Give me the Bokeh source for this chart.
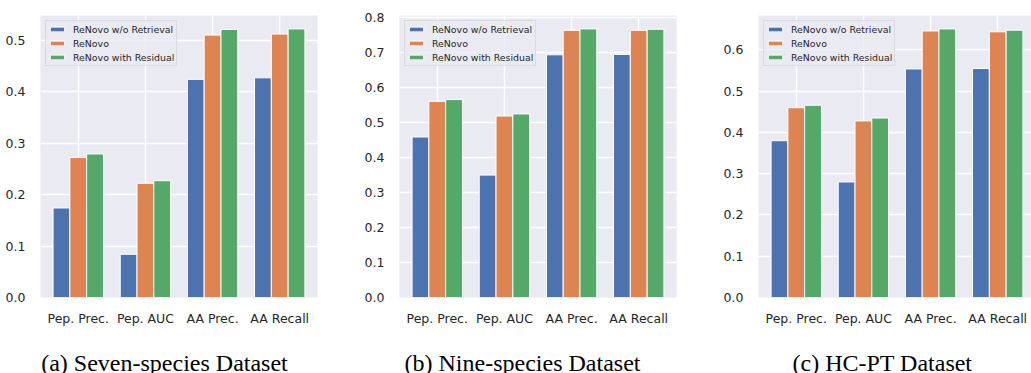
from bokeh.plotting import figure
from bokeh.models import ColumnDataSource, Range1d, FixedTicker, PrintfTickFormatter, Legend
from bokeh.transform import dodge
from bokeh.layouts import row, column
from bokeh.core.properties import value
from bokeh.embed import file_html
from bokeh.resources import INLINE

categories = ["Pep. Prec.", "Pep. AUC", "AA Prec.", "AA Recall"]
series_names = ["ReNovo w/o Retrieval", "ReNovo", "ReNovo with Residual"]
colors = ["#4C72B0", "#DD8452", "#55A868"]

seven_wo = [0.174, 0.084, 0.424, 0.427]
seven_renovo = [0.272, 0.222, 0.510, 0.512]
seven_resid = [0.279, 0.227, 0.521, 0.522]

nine_wo = [0.459, 0.350, 0.694, 0.695]
nine_renovo = [0.561, 0.519, 0.764, 0.764]
nine_resid = [0.566, 0.525, 0.768, 0.767]

hcpt_wo = [0.380, 0.280, 0.554, 0.555]
hcpt_renovo = [0.460, 0.428, 0.646, 0.644]
hcpt_resid = [0.466, 0.435, 0.651, 0.648]

captions = ["(a) Seven-species Dataset", "(b) Nine-species Dataset", "(c) HC-PT Dataset"]
y_ticks = [[0.0, 0.1, 0.2, 0.3, 0.4, 0.5],
           [0.0, 0.1, 0.2, 0.3, 0.4, 0.5, 0.6, 0.7, 0.8],
           [0.0, 0.1, 0.2, 0.3, 0.4, 0.5, 0.6]]

TXT = "#262626"
BG = "#EAEAF2"
MAIN_H = 328


def make_panel(vals, yticks, width, top, right, x_end):
    idx = list(range(len(categories)))
    src = ColumnDataSource(dict(idx=idx, a=vals[0], b=vals[1], c=vals[2]))
    ymax = max(max(v) for v in vals) * 1.05
    p = figure(width=width, height=MAIN_H, output_backend="svg", toolbar_location=None,
               x_range=Range1d(-0.5625, x_end), y_range=Range1d(0, ymax),
               min_border_left=40, min_border_right=right, min_border_top=top,
               min_border_bottom=30, background_fill_color=BG,
               border_fill_color="white", outline_line_color=None)
    offs = [-0.25, 0.0, 0.25]
    rends = []
    for col, off, colr in zip(["a", "b", "c"], offs, colors):
        r = p.vbar(x=dodge("idx", off), top=col, width=0.25, source=src,
                   fill_color=colr, line_color="white", line_width=1)
        rends.append(r)
    legend = Legend(items=[(n, [r]) for n, r in zip(series_names, rends)],
                    location="top_left", margin=5, padding=2, spacing=2,
                    label_height=12, glyph_height=6, glyph_width=18,
                    label_standoff=7, label_text_font="DejaVu Sans",
                    label_text_font_size="9.4px", label_text_color=TXT,
                    background_fill_color=BG, background_fill_alpha=0.8,
                    border_line_color="#cccccc", border_line_width=1)
    p.add_layout(legend, "center")

    p.xaxis.ticker = FixedTicker(ticks=idx)
    p.xaxis.major_label_overrides = {i: c for i, c in zip(idx, categories)}
    p.yaxis.ticker = FixedTicker(ticks=yticks)
    p.yaxis.formatter = PrintfTickFormatter(format="%.1f")
    for ax in (p.xaxis, p.yaxis):
        ax.axis_line_color = None
        ax.major_tick_line_color = None
        ax.minor_tick_line_color = None
        ax.major_label_text_font = "DejaVu Sans"
        ax.major_label_text_font_size = "12.5px"
        ax.major_label_text_color = TXT
    p.xaxis.major_label_standoff = 7
    p.yaxis.major_label_standoff = 9
    p.xgrid.ticker = FixedTicker(ticks=idx)
    p.ygrid.ticker = FixedTicker(ticks=yticks)
    for g in (p.xgrid, p.ygrid):
        g.grid_line_color = "white"
        g.grid_line_width = 1.5
    return p


p1 = make_panel([seven_wo, seven_renovo, seven_resid], y_ticks[0], 359, 12, 42, 3.5625)
p2 = make_panel([nine_wo, nine_renovo, nine_resid], y_ticks[1], 359, 15, 42, 3.5625)
p3 = make_panel([hcpt_wo, hcpt_renovo, hcpt_resid], y_ticks[2], 313, 12, 0, 3.503)

CAP_H = 373 - MAIN_H
cap_x = [164, 522, 882]
cap = figure(width=1031, height=CAP_H, output_backend="svg", toolbar_location=None,
             x_range=Range1d(0, 1031), y_range=Range1d(0, CAP_H),
             x_axis_location=None, y_axis_location=None,
             min_border=0, outline_line_color=None, background_fill_color="white",
             border_fill_color="white")
cap.grid.visible = False
cap_src = ColumnDataSource(dict(x=cap_x, y=[11, 11, 11], t=captions))
cap.text(x="x", y="y", text="t", source=cap_src, text_font=value("Liberation Serif"),
         text_font_size="24px", text_color="black", text_align="center",
         text_baseline="alphabetic")

lay = column(row(p1, p2, p3, spacing=0), cap, spacing=0)
open("out.html", "w").write(file_html(lay, INLINE))
